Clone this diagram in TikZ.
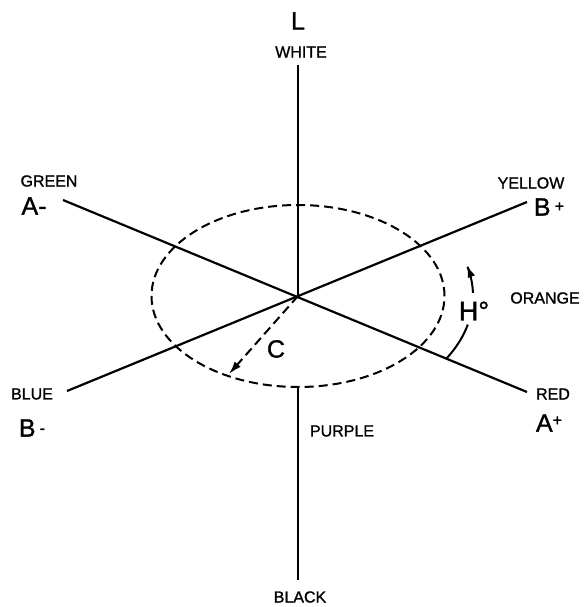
\documentclass[tikz,border=0pt]{standalone}
\usepackage{fontspec}
\setmainfont{Liberation Sans}
\newfontfamily\heavy[FakeBold=1.2]{Liberation Sans}
\usetikzlibrary{arrows.meta}
\tikzset{
  axis/.style={line width=2.2pt},
  rim/.style={line width=2pt, dash pattern=on 9pt off 5pt},
  small/.style={inner sep=0pt, font=\heavy\fontsize{16}{18}\selectfont},
  big/.style={inner sep=0pt, font=\heavy\fontsize{25}{28}\selectfont},
}
\begin{document}
\begin{tikzpicture}[x=1pt,y=-1pt]
\useasboundingbox (0,0) rectangle (585,607);
% key points
\coordinate (O) at (298,296);
\coordinate (Gend) at (63,200);
\coordinate (Rend) at (527,392);
\coordinate (Bend) at (67,391);
\coordinate (Yend) at (527,202);
\coordinate (Ltop) at (298,65);
\coordinate (Pbot) at (298,387);
\coordinate (Kbot) at (298,580);
\coordinate (Cend) at (229,374);
% axes
\draw[axis] (Ltop) -- (O);
\draw[axis] (Pbot) -- (Kbot);
\draw[axis] (Gend) -- (Rend);
\draw[axis] (Bend) -- (Yend);
% dashed ellipse
\draw[rim] (O) ellipse [x radius=146.5pt, y radius=91pt];
% chroma arrow
\draw[rim, -{Latex[length=13pt,width=8pt]}] (O) -- (Cend);
% hue arc
\draw[axis, line width=2pt] plot[domain=-31.7:-14, smooth, samples=20] ({298+175*cos(\x)}, {296-118*sin(\x)});
\draw[axis, line width=2pt, -{Latex[length=12pt,width=8pt]}] plot[domain=1.5:15, smooth, samples=20] ({298+175*cos(\x)}, {296-118*sin(\x)});
% labels
\node[big] (L) at (298,21) {L};
\node[small] (white) at (301,52) {WHITE};
\node[small] (green) at (49,181) {GREEN};
\node[big] (am) at (34,206) {A-};
\node[small] (yellow) at (531,183) {YELLOW};
\node[big] (bp) at (549,207) {B\,\raisebox{4pt}{\fontsize{16}{18}\selectfont+}};
\node[small] (blue) at (32,394) {BLUE};
\node[big] (bm) at (32,428) {B\,\raisebox{3pt}{\fontsize{16}{18}\selectfont -}};
\node[small] (red) at (553,394) {RED};
\node[big] (ap) at (549,423) {A\raisebox{6pt}{\fontsize{16}{18}\selectfont+}};
\node[small] (orange) at (545,298) {ORANGE};
\node[small] (purple) at (342,431) {PURPLE};
\node[small] (black) at (300,597) {BLACK};
\node[big] (C) at (276,349) {C};
\node[big, font=\heavy\fontsize{27}{30}\selectfont] (H) at (474,311) {H°};
\end{tikzpicture}
\end{document}
